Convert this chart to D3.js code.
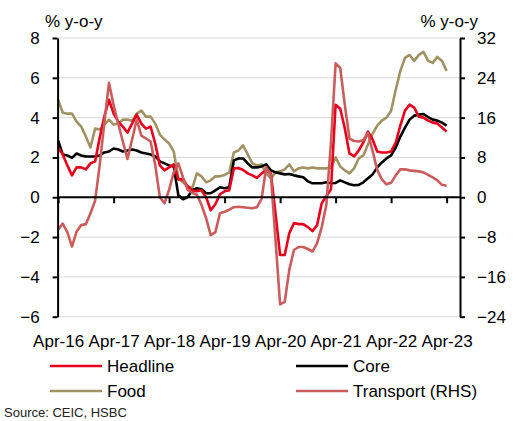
<!DOCTYPE html>
<html>
<head>
<meta charset="utf-8">
<script src="https://cdn.jsdelivr.net/npm/d3@7"></script>
<style>
  body { margin: 0; background: #fff; }
  svg { font-family: "Liberation Sans", Arial, sans-serif; }
  .axis path, .axis line { stroke: #000; stroke-width: 2; }
  .axis text { font-size: 17px; fill: #000; }
  .grid line { stroke: #d9d9d9; stroke-width: 1; }
</style>
</head>
<body>
<script>

// Monthly data, Apr-16 to Apr-23 (85 months), % y-o-y

var tickLabels = ["Apr-16", "Apr-17", "Apr-18", "Apr-19", "Apr-20", "Apr-21", "Apr-22", "Apr-23"];

var headline = [2.5, 2.15, 1.6, 1.1, 1.5, 1.5, 1.4, 1.7, 1.8, 3.0, 4.05, 4.9,
    4.2, 3.8, 3.55, 3.25, 3.7, 4.15, 3.7, 3.45, 3.55, 2.7, 1.6, 1.35,
    1.5, 1.65, 0.9, 0.9, 0.55, 0.35, 0.3, 0.35, 0.0, -0.65, -0.35, 0.15,
    0.3, 0.35, 1.45, 1.47, 1.37, 1.2, 1.1, 0.97, 1.2, 1.35, 1.2, -0.8,
    -2.9, -2.9, -1.8, -1.3, -1.35, -1.35, -1.5, -1.7, -1.4, -0.3, 0.05, 0.4,
    4.65, 4.45, 3.45, 2.2, 2.05, 2.35, 2.75, 3.3, 2.9, 2.3, 2.25, 2.25,
    2.3, 2.75, 3.6, 4.35, 4.65, 4.5, 4.05, 4.0, 3.85, 3.75, 3.7, 3.5,
    3.3];

var core = [2.85, 2.15, 2.1, 1.98, 2.2, 2.1, 2.05, 2.05, 2.05, 2.1, 2.25, 2.3,
    2.45, 2.4, 2.3, 2.35, 2.4, 2.35, 2.25, 2.2, 2.15, 2.05, 1.8, 1.7,
    1.6, 1.55, 0.1, -0.1, 0.0, 0.35, 0.45, 0.4, 0.2, 0.2, 0.35, 0.5,
    0.45, 0.5, 1.85, 1.95, 1.95, 1.7, 1.5, 1.5, 1.55, 1.65, 1.35, 1.25,
    1.2, 1.15, 1.17, 1.1, 1.05, 1.0, 0.8, 0.7, 0.7, 0.7, 0.75, 0.7,
    0.72, 0.85, 0.75, 0.65, 0.6, 0.62, 0.75, 0.95, 1.15, 1.5, 1.75, 1.95,
    2.1, 2.5, 3.05, 3.5, 3.9, 4.1, 4.15, 4.18, 4.03, 3.9, 3.85, 3.75,
    3.6];

var food = [4.9, 4.25, 4.2, 4.2, 3.8, 3.55, 3.05, 2.5, 3.45, 3.4, 3.65, 3.9,
    3.65, 3.7, 3.9, 3.9, 3.85, 4.2, 4.35, 4.05, 4.05, 3.7, 3.15, 2.9,
    2.7, 2.3, 0.95, 0.75, 0.55, 0.45, 1.2, 1.05, 0.75, 0.85, 1.05, 1.05,
    1.12, 1.25, 2.25, 2.35, 2.6, 2.15, 1.7, 1.6, 1.65, 1.2, 0.95, 1.25,
    1.3, 1.4, 1.65, 1.3, 1.45, 1.5, 1.45, 1.5, 1.45, 1.45, 1.45, 1.5,
    2.0, 1.55, 1.35, 1.2, 1.45, 1.95, 2.1, 2.65, 3.2, 3.6, 3.85, 4.0,
    4.35, 5.4, 6.35, 7.0, 7.15, 6.85, 7.15, 7.3, 6.85, 6.75, 7.05, 6.85,
    6.35];

var transport = [-6.5, -5.3, -7.0, -9.9, -6.9, -5.6, -5.4, -3.2, -0.7, 6.5, 15.0, 23.0,
    18.5, 14.8, 11.2, 7.7, 11.6, 15.6, 12.4, 11.8, 11.2, 6.5, 0.0, -1.2,
    1.5, 5.0, 6.8, 4.0, 1.5, 0.9, 0.5, -1.5, -4.2, -7.6, -7.0, -3.2,
    -2.9, -2.5, -2.0, -1.9, -2.0, -2.1, -2.2, -2.0, -0.3, 6.0, 4.5, -8.5,
    -21.5, -21.0, -14.5, -10.6, -10.0, -10.0, -10.4, -10.9, -9.2, -6.0, -1.5, 11.0,
    26.9, 26.0, 18.5, 11.8, 11.3, 11.2, 11.5, 12.9, 9.3, 5.5, 3.6, 2.6,
    2.9, 4.4, 5.6, 5.6, 5.4, 5.3, 5.2, 5.0, 4.5, 4.0, 3.4, 2.5,
    2.3];

var series = [
    {name: "Food", values: food, color: "#a09262", axis: "left"},
    {name: "Core", values: core, color: "#000000", axis: "left"},
    {name: "Headline", values: headline, color: "#e8001c", axis: "left"},
    {name: "Transport (RHS)", values: transport, color: "#cb5c5c", axis: "right"}
];

var legendOrder = ["Headline", "Core", "Food", "Transport (RHS)"];

var margin = {top: 38, right: 56, bottom: 104.3, left: 57.6},
    width = 516 - margin.left - margin.right,
    height = 421 - margin.top - margin.bottom;

var svg = d3.select("body")
    .append("svg")
    .attr("width", 516)
    .attr("height", 421);

var g = svg.append("g")
    .attr("transform", "translate(" + margin.left + "," + margin.top + ")");

// scales: month index on x, two y scales
var x = d3.scaleLinear().domain([0, 84]).range([0.5, 389]);
var yLeft = d3.scaleLinear().domain([-6, 8]).range([height, 0]);
var yRight = d3.scaleLinear().domain([-24, 32]).range([height, 0]);

// grid lines
g.append("g")
    .attr("class", "grid")
    .selectAll("line")
    .data(d3.range(-6, 9, 2).filter(function(d) { return d !== 0; }))
    .enter().append("line")
      .attr("x1", 0)
      .attr("x2", width)
      .attr("y1", function(d) { return yLeft(d); })
      .attr("y2", function(d) { return yLeft(d); });

// lines
var line = function(scale) {
    return d3.line()
        .x(function(d, i) { return x(i); })
        .y(function(d) { return scale(d); });
};

g.selectAll(".series")
    .data(series)
    .enter().append("path")
      .attr("class", "series")
      .attr("fill", "none")
      .attr("stroke", function(d) { return d.color; })
      .attr("stroke-width", 2.6)
      .attr("stroke-linejoin", "round")
      .attr("d", function(d) {
          return line(d.axis === "left" ? yLeft : yRight)(d.values);
      });

// x axis at zero with ticks, labels at the bottom
g.append("g")
    .attr("class", "axis axis--x")
    .attr("transform", "translate(0," + yLeft(0) + ")")
    .call(d3.axisBottom(x).tickValues(d3.range(0, 85, 12))
        .tickSize(6).tickSizeOuter(0).tickFormat(""))
    .select(".domain")
      .attr("d", "M0,0H" + width);

g.append("g")
    .attr("class", "axis axis--labels")
    .attr("transform", "translate(0," + height + ")")
    .call(d3.axisBottom(x).tickValues(d3.range(0, 85, 12))
        .tickSize(0).tickPadding(18)
        .tickFormat(function(d, i) { return tickLabels[i]; }))
    .call(function(a) { a.select(".domain").remove(); });

// y axes
g.append("g")
    .attr("class", "axis axis--y")
    .call(d3.axisLeft(yLeft).tickValues(d3.range(-6, 9, 2))
        .tickSize(5).tickSizeOuter(0).tickPadding(13));

g.append("g")
    .attr("class", "axis axis--y2")
    .attr("transform", "translate(" + width + ",0)")
    .call(d3.axisRight(yRight).tickValues(d3.range(-24, 33, 8))
        .tickSize(5).tickSizeOuter(0).tickPadding(12));

// axis titles
svg.append("text")
    .attr("x", 45)
    .attr("y", 27)
    .style("font-size", "17px")
    .text("% y-o-y");

svg.append("text")
    .attr("x", 478)
    .attr("y", 27)
    .attr("text-anchor", "end")
    .style("font-size", "17px")
    .text("% y-o-y");

// legend
var legend = svg.selectAll(".legend")
    .data(legendOrder)
    .enter().append("g")
      .attr("class", "legend")
      .attr("transform", function(d, i) {
          return "translate(" + (i % 2 === 0 ? 50 : 296) + "," + (i < 2 ? 366 : 391) + ")";
      });

legend.append("line")
    .attr("x1", 0)
    .attr("x2", 52)
    .attr("stroke-width", 2.6)
    .attr("stroke", function(d) {
        return series.find(function(s) { return s.name === d; }).color;
    });

legend.append("text")
    .attr("x", 57)
    .attr("dy", "0.36em")
    .style("font-size", "17px")
    .text(function(d) { return d; });

svg.append("text")
    .attr("x", 4)
    .attr("y", 417)
    .style("font-size", "13px")
    .style("fill", "#222")
    .text("Source: CEIC, HSBC");

</script>
</body>
</html>
